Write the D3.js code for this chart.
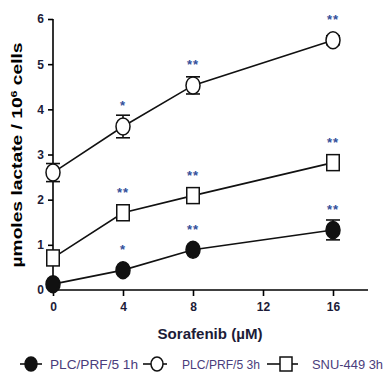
<!DOCTYPE html>
<html>
<head>
<meta charset="utf-8">
<script src="https://cdn.jsdelivr.net/npm/d3@7"></script>
<style>
  body { margin: 0; background: #fff; }
  svg { display: block; }
  text { font-family: "Liberation Sans Narrow", "Liberation Sans", Arial, sans-serif; }
</style>
</head>
<body>
<script>
// sorafenib dose (uM) and lactate readings per series
var doses = [0, 4, 8, 16];
var xTicks = [0, 4, 8, 12, 16];
var yTicks = [0, 1, 2, 3, 4, 5, 6];

var plc1h = [0.13, 0.44, 0.89, 1.33];
var plc1hErr = [0.05, 0.05, 0.05, 0.22];
var plc3h = [2.6, 3.62, 4.53, 5.53];
var plc3hErr = [0.2, 0.25, 0.19, 0.1];
var snu3h = [0.71, 1.71, 2.09, 2.82];
var snu3hErr = [0.05, 0.05, 0.05, 0.05];

var plc1hSig = ["", "*", "**", "**"];
var plc3hSig = ["", "*", "**", "**"];
var snu3hSig = ["", "**", "**", "**"];

var seriesNames = ["PLC/PRF/5 1h", "PLC/PRF/5 3h", "SNU-449 3h"];

var w = 386, h = 381;

var x = d3.scaleLinear().domain([0, 18]).range([53, 368]);
var y = d3.scaleLinear().domain([0, 6]).range([290, 19]);

var svg = d3.select("body").append("svg")
    .attr("width", w)
    .attr("height", h);

var ink = "#1c1c38";

// axes
var yAxis = svg.append("g")
    .attr("transform", "translate(" + x(0) + ",0)")
    .call(d3.axisLeft(y).tickValues(yTicks).tickSize(5).tickPadding(4).tickFormat(d3.format("d")));
var xAxis = svg.append("g")
    .attr("transform", "translate(0," + y(0) + ")")
    .call(d3.axisBottom(x).tickValues(xTicks).tickSize(6).tickPadding(6).tickFormat(d3.format("d")));

[xAxis, yAxis].forEach(function(a){
    a.select(".domain").attr("stroke", "#000").attr("stroke-width", 1.6);
    a.selectAll(".tick line").attr("stroke", "#000").attr("stroke-width", 1.6);
    a.selectAll(".tick text")
        .attr("fill", ink)
        .style("font-size", "12px")
        .style("font-weight", "bold");
});
// x-axis line starts at the y-axis, no outer ticks
xAxis.select(".domain").attr("d", "M" + (x(0) - 0.8) + ",0H" + x(18));
yAxis.select(".domain").attr("d", "M0," + (y(0) + 0.8) + "V" + y(6));

// axis titles
svg.append("text")
    .attr("x", 210).attr("y", 339)
    .attr("text-anchor", "middle")
    .attr("textLength", 105).attr("lengthAdjust", "spacingAndGlyphs")
    .attr("fill", ink)
    .style("font-size", "15px").style("font-weight", "bold")
    .text("Sorafenib (\u00b5M)");

var yt = svg.append("text")
    .attr("transform", "translate(22,155) rotate(-90)")
    .attr("text-anchor", "middle")
    .attr("textLength", 225).attr("lengthAdjust", "spacingAndGlyphs")
    .attr("fill", "#000")
    .style("font-size", "14px").style("font-weight", "bold");
yt.append("tspan").text("\u00b5moles lactate / 10");
yt.append("tspan").attr("dy", -5).style("font-size", "9px").text("6");
yt.append("tspan").attr("dy", 5).text(" cells");

var series = [
    {vals: plc1h, err: plc1hErr, sig: plc1hSig, shape: "circle", fill: "#111"},
    {vals: plc3h, err: plc3hErr, sig: plc3hSig, shape: "circle", fill: "#fff"},
    {vals: snu3h, err: snu3hErr, sig: snu3hSig, shape: "square", fill: "#fff"}
];

var line = d3.line()
    .x(function(d, i){ return x(doses[i]); })
    .y(function(d){ return y(d); });

function drawMarker(g, shape, fill, big){
    if(shape == "circle"){
        g.append("ellipse")
            .attr("rx", big ? 7 : 6).attr("ry", big ? 8.5 : 7)
            .attr("fill", fill).attr("stroke", "#111").attr("stroke-width", 1.5);
    }else{
        var sw = big ? 12.5 : 12, sh = big ? 16 : 14;
        g.append("rect")
            .attr("x", -sw/2).attr("y", -sh/2)
            .attr("width", sw).attr("height", sh)
            .attr("fill", fill).attr("stroke", "#111").attr("stroke-width", 1.5);
    }
}

series.forEach(function(s){
    svg.append("path")
        .attr("d", line(s.vals))
        .attr("fill", "none")
        .attr("stroke", "#111")
        .attr("stroke-width", 1.6);

    s.vals.forEach(function(v, i){
        var cx = x(doses[i]), cy = y(v);
        // error bar
        var top = y(v + s.err[i]), bot = y(v - s.err[i]);
        var eb = svg.append("g").attr("stroke", "#111").attr("stroke-width", 1.6);
        eb.append("line").attr("x1", cx).attr("x2", cx).attr("y1", top).attr("y2", bot);
        eb.append("line").attr("x1", cx - 7).attr("x2", cx + 7).attr("y1", top).attr("y2", top);
        eb.append("line").attr("x1", cx - 7).attr("x2", cx + 7).attr("y1", bot).attr("y2", bot);

        var g = svg.append("g").attr("transform", "translate(" + cx + "," + cy + ")");
        drawMarker(g, s.shape, s.fill, true);

        if(s.sig[i]){
            svg.append("text")
                .attr("x", cx).attr("y", cy - 24 + 8)
                .attr("text-anchor", "middle")
                .attr("fill", "#34509a")
                .attr("letter-spacing", 1)
                .style("font-size", "13px").style("font-weight", "bold")
                .text(s.sig[i]);
        }
    });
});

// legend
var legendY = 364;
var legendItems = [
    {x1: 20, x2: 42, mx: 31, tx: 50, tw: 88},
    {x1: 143, x2: 167, mx: 157, tx: 182, tw: 78},
    {x1: 267, x2: 298, mx: 286, tx: 312, tw: 71}
];
legendItems.forEach(function(it, i){
    svg.append("line")
        .attr("x1", it.x1).attr("x2", it.x2)
        .attr("y1", legendY).attr("y2", legendY)
        .attr("stroke", "#111").attr("stroke-width", 1.6);
    var g = svg.append("g").attr("transform", "translate(" + it.mx + "," + legendY + ")");
    drawMarker(g, series[i].shape, series[i].fill, false);
    svg.append("text")
        .attr("x", it.tx).attr("y", legendY + 5)
        .attr("textLength", it.tw).attr("lengthAdjust", "spacingAndGlyphs")
        .attr("fill", "#4a3d7c")
        .style("font-size", "13px")
        .text(seriesNames[i]);
});
</script>
</body>
</html>
